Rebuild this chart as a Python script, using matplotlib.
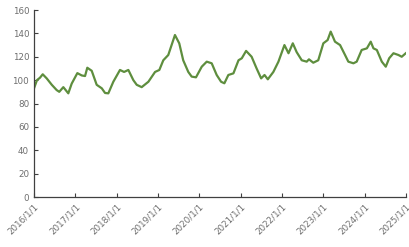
import matplotlib
matplotlib.use("Agg")
import matplotlib.pyplot as plt
import matplotlib.dates as mdates
import pandas as pd

dates = [
    "2016-01-01", "2016-01-27", "2016-02-22", "2016-03-18", "2016-04-22", "2016-06-06",
    "2016-07-19", "2016-08-11", "2016-09-16", "2016-10-30", "2016-11-29", "2017-01-18",
    "2017-02-26", "2017-03-27", "2017-04-16", "2017-05-25", "2017-07-08", "2017-08-22",
    "2017-09-20", "2017-10-19", "2017-12-02", "2018-01-30", "2018-03-07", "2018-04-14",
    "2018-05-28", "2018-06-27", "2018-08-10", "2018-10-08", "2018-12-06", "2019-01-13",
    "2019-02-17", "2019-04-02", "2019-05-31", "2019-07-08", "2019-08-12", "2019-09-26",
    "2019-10-26", "2019-12-03", "2020-01-23", "2020-03-07", "2020-04-20", "2020-06-03",
    "2020-07-12", "2020-08-10", "2020-09-14", "2020-10-29", "2020-12-13", "2021-01-11",
    "2021-02-18", "2021-04-08", "2021-05-22", "2021-07-01", "2021-07-31", "2021-08-29",
    "2021-10-17", "2021-12-01", "2022-01-23", "2022-02-28", "2022-04-07", "2022-05-11",
    "2022-06-25", "2022-08-08", "2022-08-28", "2022-10-05", "2022-11-18", "2023-01-02",
    "2023-02-09", "2023-03-08", "2023-04-15", "2023-05-30", "2023-07-13", "2023-08-11",
    "2023-09-25", "2023-10-24", "2023-12-07", "2024-01-22", "2024-02-25", "2024-03-20",
    "2024-04-19", "2024-06-02", "2024-07-07", "2024-08-06", "2024-09-13", "2024-10-27",
    "2024-11-25", "2024-12-31",
]
values = [
    93, 100, 102, 105, 101.5, 96,
    91.5, 90, 94, 88.7, 97, 106,
    104, 103.5, 110.6, 108, 96, 93,
    89, 88.7, 98.6, 108.7, 107, 108.7,
    100, 96, 94, 98.6, 107, 108.7,
    117, 121.5, 138.6, 131.5, 117, 107,
    103, 102.4, 111.5, 115.8, 114.4, 104.4,
    98.6, 97.3, 104.4, 105.8, 117, 118.7,
    125, 120, 110, 101.5, 104.4, 100.7,
    107, 115.8, 130, 123, 131.5, 124,
    117, 115.8, 117.8, 114.9, 117, 131.5,
    134.3, 141.5, 132.9, 130, 121.5, 115.8,
    114.4, 115.8, 125.8, 127.2, 132.9, 127.2,
    125.8, 115.8, 111.5, 118.7, 123, 121.5,
    120, 123,
]

x = pd.to_datetime(dates)

fig = plt.figure(figsize=(4.1, 2.47), dpi=100)
ax = fig.add_axes([0.083, 0.2024, 0.907, 0.7571])

ax.plot(x, values, color="#5e8e3e", linewidth=1.6)

ax.set_xlim(pd.Timestamp("2016-01-01"), pd.Timestamp("2025-01-01"))
ax.set_ylim(0, 160)
ax.set_yticks(range(0, 161, 20))
ax.xaxis.set_major_locator(mdates.YearLocator())
ax.xaxis.set_major_formatter(
    plt.FuncFormatter(lambda v, p: f"{mdates.num2date(v).year}/1/1"))

for s in ["top", "right"]:
    ax.spines[s].set_visible(False)
for s in ["left", "bottom"]:
    ax.spines[s].set_color("#404040")
    ax.spines[s].set_linewidth(0.9)

ax.tick_params(axis="both", direction="in", length=3, width=0.8, color="#404040",
               labelcolor="#6e6e6e", labelsize=6.3)
plt.setp(ax.get_xticklabels(), rotation=45, ha="right", rotation_mode="anchor")

fig.savefig("out.png", dpi=100)
